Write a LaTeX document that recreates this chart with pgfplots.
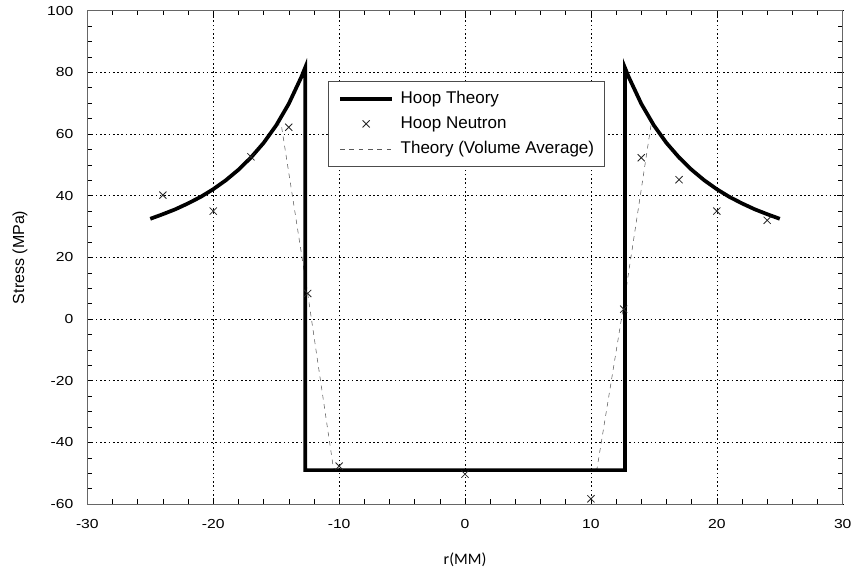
\documentclass[border=0pt]{standalone}
\usepackage{fontspec}
\setmainfont{Liberation Sans}
\newfontfamily\tickfont[FakeStretch=1.2]{Liberation Sans}
\newfontfamily\labfont{Carlito}
\usepackage{pgfplots}
\pgfplotsset{compat=1.18}

\begin{document}
\begin{tikzpicture}
\begin{axis}[
  at={(0pt,0pt)},anchor=south west,
  scale only axis,
  width=566.5pt,height=370pt,
  xmin=-30,xmax=30,ymin=-60,ymax=100,
  xtick={-30,-20,...,30},ytick={-60,-40,...,100},
  minor x tick num=4,minor y tick num=3,
  tick pos=both,tick align=inside,
  major tick length=4pt,minor tick length=3.5pt,
  every tick/.style={black,thin},
  axis line style={black!60,thin},
  grid=major,
  major grid style={black,thin,dash pattern=on 1.2pt off 2pt},
  /pgf/number format/assume math mode=true,
  ticklabel style={font=\tickfont\fontsize{9.8}{11}\selectfont},
  xticklabel style={yshift=-8pt},
  yticklabel style={xshift=-7pt},
  xlabel={r(MM)},ylabel={Stress (MPa)},
  xlabel style={at={(axis description cs:0.5,-0.1135)},anchor=center,font=\labfont\fontsize{12}{14}\selectfont},
  ylabel style={at={(axis description cs:-0.0891,0.5)},anchor=center,font=\fontsize{12}{14}\selectfont},
  legend style={at={(axis description cs:0.3186,0.8575)},anchor=north west,
    draw=black!70,thin,font=\fontsize{12.75}{14}\selectfont,
    inner xsep=7.5pt,inner ysep=7pt,row sep=6.25pt,
    nodes={inner sep=0pt,text height=9.5pt,text depth=3pt},
    /tikz/every odd column/.append style={column sep=5pt}},
  legend cell align=left,
  legend image code/.code={\draw[mark repeat=2,mark phase=2,#1] plot coordinates {(0pt,0pt) (19.5pt,0pt) (39pt,0pt)};},
]
% theory (volume average)
\addplot[black!65,thin,dash pattern=on 3.5pt off 3.5pt,forget plot] coordinates {
(-25,32.5) (-24,34.0) (-23,35.6) (-22,37.5) (-21,39.6) (-20,42.1) (-19,45.0)
(-18,48.4) (-17,52.4) (-16,57.1) (-15,62.8) (-14.6,63.1) (-12.5,8.3) (-10.45,-48.5)
(-10,-49) (10,-49) (10.48,-48.6) (12.6,4.5) (14.78,63.1) (15,62.8) (16,57.1)
(17,52.4) (18,48.4) (19,45.0) (20,42.1) (21,39.6) (22,37.5) (23,35.6) (24,34.0) (25,32.5)};
% hoop theory
\addplot[black,line width=2.8pt,line join=miter] coordinates {
(-25,32.5) (-24,34.0) (-23,35.6) (-22,37.5) (-21,39.6) (-20,42.1) (-19,45.0)
(-18,48.4) (-17,52.4) (-16,57.1) (-15,62.8) (-14,69.8) (-13,78.5) (-12.7,81.5)
(-12.7,-49) (12.7,-49) (12.7,81.5) (13,78.5) (14,69.8) (15,62.8) (16,57.1)
(17,52.4) (18,48.4) (19,45.0) (20,42.1) (21,39.6) (22,37.5) (23,35.6) (24,34.0) (25,32.5)};
\addlegendentry{Hoop Theory}
% hoop neutron
\addplot[only marks,mark=x,mark size=3.8pt,black!85,semithick] coordinates {
(-24,40.2) (-20,35) (-17,52.6) (-14,62.2) (-12.5,8.3) (-10,-47.7)
(0,-50.3) (10,-58.3) (12.6,3.2) (14,52.3) (17,45.2) (20,35) (24,32)};
\addlegendentry{Hoop Neutron}
\addlegendimage{black!65,thin,dash pattern=on 3.5pt off 3.5pt}
\addlegendentry{Theory (Volume Average)}
\end{axis}
\pgfresetboundingbox
\useasboundingbox (-65.5pt,-53.25pt) rectangle (574.2pt,378pt);
\end{tikzpicture}
\end{document}
